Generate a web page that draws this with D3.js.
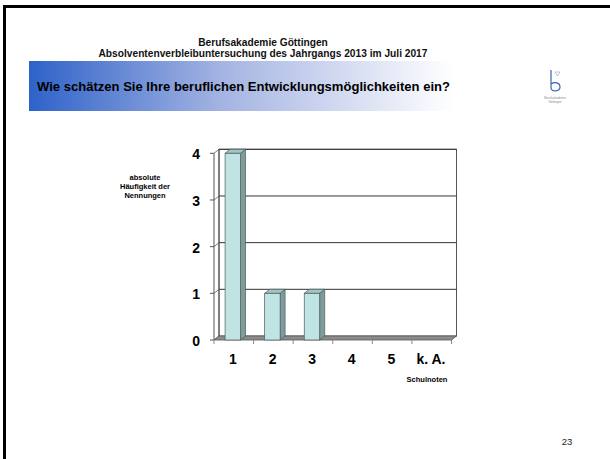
<!DOCTYPE html>
<html>
<head>
<meta charset="utf-8">
<script src="https://cdn.jsdelivr.net/npm/d3@7"></script>
<style>
  html, body { margin: 0; padding: 0; background: #fff; }
  svg { display: block; font-family: "Liberation Sans", Arial, sans-serif; }
</style>
</head>
<body>
<svg id="slide" width="610" height="459"></svg>
<script>
// Survey answers: grade given by graduates, with absolute counts
const categories = ["1", "2", "3", "4", "5", "k. A."];
const counts = [4, 1, 1, 0, 0, 0];
const yTicks = [0, 1, 2, 3, 4];
const yTitleLines = ["absolute", "Häufigkeit der", "Nennungen"];
const headerLines = ["Berufsakademie Göttingen", "Absolventenverbleibuntersuchung des Jahrgangs 2013 im Juli 2017"];
const question = "Wie schätzen Sie Ihre beruflichen Entwicklungsmöglichkeiten ein?";

const svg = d3.select("#slide");

// slide frame (top and left edges)
svg.append("rect").attr("x", 3).attr("y", 5).attr("width", 607).attr("height", 3).attr("fill", "#000");
svg.append("rect").attr("x", 3).attr("y", 5).attr("width", 3).attr("height", 454).attr("fill", "#000");

// header
svg.selectAll("text.hdr").data(headerLines).join("text")
  .attr("class", "hdr")
  .attr("x", 263).attr("y", (d, i) => 46 + i * 11)
  .attr("text-anchor", "middle")
  .attr("font-size", 10.2).attr("font-weight", "bold").attr("fill", "#111")
  .text(d => d);

// question banner with blue-to-white gradient
const defs = svg.append("defs");
const grad = defs.append("linearGradient").attr("id", "banner").attr("x1", 0).attr("x2", 1).attr("y1", 0).attr("y2", 0);
grad.append("stop").attr("offset", 0).attr("stop-color", "#2e62c9");
grad.append("stop").attr("offset", 0.45).attr("stop-color", "#a3b3e2");
grad.append("stop").attr("offset", 1).attr("stop-color", "#ffffff");
svg.append("rect").attr("x", 29).attr("y", 61).attr("width", 424).attr("height", 50).attr("fill", "url(#banner)");
svg.append("text")
  .attr("x", 37).attr("y", 90.5)
  .attr("font-size", 13.5).attr("font-weight", "bold").attr("fill", "#000")
  .attr("textLength", 413).attr("lengthAdjust", "spacingAndGlyphs")
  .text(question);

// small institute logo
const logo = svg.append("g").attr("transform", "translate(550,70)");
logo.append("path")
  .attr("d", "M1,0 L1,18 C1,22 10,22 10,17 C10,12 4,12 1,14")
  .attr("fill", "none").attr("stroke", "#3a62b8").attr("stroke-width", 1.2);
logo.append("path").attr("d", "M5,2 L10,2 L7.5,6 Z").attr("fill", "none").attr("stroke", "#8aa0cc").attr("stroke-width", 0.6);
logo.append("text").attr("x", 5).attr("y", 29).attr("text-anchor", "middle").attr("font-size", 3).attr("fill", "#888").text("Berufsakademie");
logo.append("text").attr("x", 5).attr("y", 33).attr("text-anchor", "middle").attr("font-size", 3).attr("fill", "#888").text("Göttingen");

// chart geometry
const dx = 5, dy = -4;
const x = d3.scaleBand().domain(categories).range([214, 451.5]).padding(0);
const y = d3.scaleLinear().domain([0, 4]).range([340, 153.3]);
const g = svg.append("g");

const backL = 214 + dx, backR = 451.5 + dx;

// back wall
g.append("rect").attr("x", backL).attr("y", y(4) + dy).attr("width", backR - backL).attr("height", y(0) - y(4))
  .attr("fill", "#fff").attr("stroke", "#555").attr("stroke-width", 1);

// gridlines on back wall + slanted lines on left wall
yTicks.forEach(v => {
  if (v > 0) {
    g.append("line").attr("x1", backL).attr("x2", backR).attr("y1", y(v) + dy).attr("y2", y(v) + dy)
      .attr("stroke", "#333").attr("stroke-width", 1);
  }
  g.append("line").attr("x1", 214).attr("x2", backL).attr("y1", y(v)).attr("y2", y(v) + dy)
    .attr("stroke", "#555").attr("stroke-width", 0.8);
});
// left wall verticals
g.append("line").attr("x1", 214).attr("x2", 214).attr("y1", y(4)).attr("y2", y(0)).attr("stroke", "#555");
g.append("line").attr("x1", backL).attr("x2", backL).attr("y1", y(4) + dy).attr("y2", y(0) + dy).attr("stroke", "#555");

// floor
g.append("path")
  .attr("d", `M214,${y(0)} L451.5,${y(0)} L${backR},${y(0) + dy} L${backL},${y(0) + dy} Z`)
  .attr("fill", "#8c8c8c").attr("stroke", "#555").attr("stroke-width", 0.8);

// y ticks and labels
yTicks.forEach(v => {
  g.append("line").attr("x1", 210).attr("x2", 214).attr("y1", y(v)).attr("y2", y(v)).attr("stroke", "#555");
  g.append("text").attr("x", 200).attr("y", y(v) + 6).attr("text-anchor", "end")
    .attr("font-size", 14).attr("font-weight", "bold").attr("fill", "#000").text(v);
});

// x ticks at category boundaries
categories.forEach(c => {
  const xe = x(c) + x.bandwidth();
  g.append("line").attr("x1", xe).attr("x2", xe).attr("y1", y(0)).attr("y2", y(0) + 4).attr("stroke", "#888");
});
g.append("line").attr("x1", 214).attr("x2", 214).attr("y1", y(0)).attr("y2", y(0) + 4).attr("stroke", "#888");

// x labels
g.selectAll("text.xl").data(categories).join("text")
  .attr("class", "xl")
  .attr("x", d => x(d) + x.bandwidth() * 0.48).attr("y", 364)
  .attr("text-anchor", "middle").attr("font-size", 14).attr("font-weight", "bold").attr("fill", "#000")
  .text(d => d);

// 3D bars
const bw = x.bandwidth() * 0.39;
const bx = d => x(d) + x.bandwidth() * 0.28;
const bars = g.selectAll("g.bar").data(categories.map((c, i) => ({ c, v: counts[i] })).filter(d => d.v > 0)).join("g").attr("class", "bar");
bars.append("path") // side
  .attr("d", d => `M${bx(d.c) + bw},${y(d.v)} L${bx(d.c) + bw + dx},${y(d.v) + dy} L${bx(d.c) + bw + dx},${y(0) + dy} L${bx(d.c) + bw},${y(0)} Z`)
  .attr("fill", "#7e9c9c").attr("stroke", "#4a5a5a").attr("stroke-width", 0.7);
bars.append("path") // top
  .attr("d", d => `M${bx(d.c)},${y(d.v)} L${bx(d.c) + dx},${y(d.v) + dy} L${bx(d.c) + bw + dx},${y(d.v) + dy} L${bx(d.c) + bw},${y(d.v)} Z`)
  .attr("fill", "#a2c4c4").attr("stroke", "#4a5a5a").attr("stroke-width", 0.7);
bars.append("rect") // front
  .attr("x", d => bx(d.c)).attr("y", d => y(d.v)).attr("width", bw).attr("height", d => y(0) - y(d.v))
  .attr("fill", "#c0e4e4").attr("stroke", "#4a5a5a").attr("stroke-width", 0.7);

// axis titles
svg.selectAll("text.yt").data(yTitleLines).join("text")
  .attr("class", "yt")
  .attr("x", 145).attr("y", (d, i) => 180 + i * 9)
  .attr("text-anchor", "middle").attr("font-size", 7.5).attr("font-weight", "bold").attr("fill", "#000")
  .text(d => d);
svg.append("text").attr("x", 427).attr("y", 382).attr("text-anchor", "middle")
  .attr("font-size", 7.5).attr("font-weight", "bold").attr("fill", "#000").text("Schulnoten");

// page number
svg.append("text").attr("x", 567).attr("y", 445).attr("text-anchor", "middle")
  .attr("font-size", 9.5).attr("fill", "#222").text("23");
</script>
</body>
</html>
